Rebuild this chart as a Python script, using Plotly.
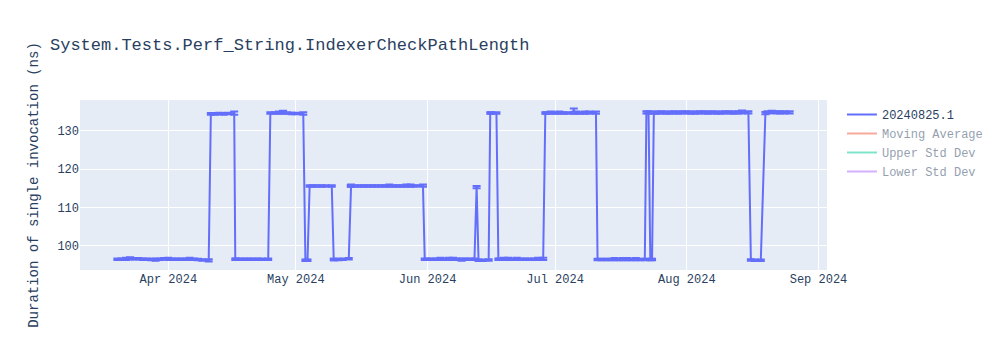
import plotly.graph_objects as go

# ---- data ----
dates = [
    # low
    "2024-03-20", "2024-03-21", "2024-03-22", "2024-03-23", "2024-03-24", "2024-03-25",
    "2024-03-26", "2024-03-27", "2024-03-28", "2024-03-29", "2024-03-30", "2024-03-31",
    "2024-04-01", "2024-04-02", "2024-04-03", "2024-04-04", "2024-04-05", "2024-04-06",
    "2024-04-07", "2024-04-08", "2024-04-09", "2024-04-10 12:00",
    # high
    "2024-04-11", "2024-04-12", "2024-04-13", "2024-04-14", "2024-04-15", "2024-04-16 12:00",
    # low
    "2024-04-16 18:00", "2024-04-17", "2024-04-18", "2024-04-19", "2024-04-20", "2024-04-21",
    "2024-04-22", "2024-04-23", "2024-04-24 12:00",
    # high
    "2024-04-25", "2024-04-26", "2024-04-27", "2024-04-28", "2024-04-29", "2024-04-30",
    "2024-05-01", "2024-05-02 18:00",
    # low
    "2024-05-03 06:00", "2024-05-03 18:00",
    # mid
    "2024-05-04 06:00", "2024-05-05", "2024-05-06", "2024-05-07", "2024-05-08", "2024-05-09 11:00",
    # low
    "2024-05-09 22:00", "2024-05-10", "2024-05-11", "2024-05-12", "2024-05-13 11:00",
    # mid
    "2024-05-13 22:00", "2024-05-14", "2024-05-15", "2024-05-16", "2024-05-17", "2024-05-18",
    "2024-05-19", "2024-05-20", "2024-05-21", "2024-05-22", "2024-05-23", "2024-05-24",
    "2024-05-25", "2024-05-26", "2024-05-27", "2024-05-28", "2024-05-29", "2024-05-30 22:00",
    # low
    "2024-05-31 08:00", "2024-06-01", "2024-06-02", "2024-06-03", "2024-06-04", "2024-06-05",
    "2024-06-06", "2024-06-07", "2024-06-08", "2024-06-09", "2024-06-10", "2024-06-11",
    "2024-06-12 01:00",
    # spike
    "2024-06-12 13:00",
    # low
    "2024-06-13", "2024-06-14", "2024-06-15 09:00",
    # high
    "2024-06-15 18:00", "2024-06-16", "2024-06-17 05:00",
    # low
    "2024-06-17 16:00", "2024-06-18", "2024-06-19", "2024-06-20", "2024-06-21", "2024-06-22",
    "2024-06-23", "2024-06-24", "2024-06-25", "2024-06-26", "2024-06-27", "2024-06-28 05:00",
    # high
    "2024-06-28 17:00", "2024-06-29", "2024-06-30", "2024-07-01", "2024-07-02", "2024-07-03",
    "2024-07-04", "2024-07-05 10:00", "2024-07-06", "2024-07-07", "2024-07-08", "2024-07-09",
    "2024-07-10 15:00",
    # low
    "2024-07-11", "2024-07-12", "2024-07-13", "2024-07-14", "2024-07-15", "2024-07-16",
    "2024-07-17", "2024-07-18", "2024-07-19", "2024-07-20", "2024-07-21", "2024-07-22 03:00",
    # high
    "2024-07-22 12:00", "2024-07-23 00:00",
    # low
    "2024-07-23 10:00", "2024-07-23 20:00",
    # high
    "2024-07-24 06:00", "2024-07-25", "2024-07-26", "2024-07-27", "2024-07-28", "2024-07-29",
    "2024-07-30", "2024-07-31", "2024-08-01", "2024-08-02", "2024-08-03", "2024-08-04",
    "2024-08-05", "2024-08-06", "2024-08-07", "2024-08-08", "2024-08-09", "2024-08-10",
    "2024-08-11", "2024-08-12", "2024-08-13", "2024-08-14", "2024-08-15 12:00",
    # low
    "2024-08-16 02:00", "2024-08-17", "2024-08-18 10:00",
    # high
    "2024-08-19 12:00", "2024-08-20", "2024-08-21", "2024-08-22", "2024-08-23", "2024-08-24",
    "2024-08-25 05:00",
]

durations = [
    96.5, 96.5, 96.6, 96.7, 96.6, 96.6, 96.5, 96.5, 96.4, 96.4, 96.5, 96.6,
    96.6, 96.5, 96.5, 96.5, 96.5, 96.6, 96.5, 96.4, 96.3, 96.2,
    134.4, 134.4, 134.5, 134.4, 134.5, 134.6,
    96.5, 96.5, 96.5, 96.5, 96.5, 96.5, 96.5, 96.5, 96.5,
    134.6, 134.6, 134.7, 134.8, 134.6, 134.5, 134.5, 134.5,
    96.2, 96.2,
    115.6, 115.6, 115.6, 115.6, 115.6, 115.6,
    96.4, 96.4, 96.4, 96.5, 96.6,
    115.6, 115.7, 115.6, 115.6, 115.6, 115.6, 115.6, 115.6, 115.6, 115.6, 115.7, 115.6,
    115.6, 115.6, 115.7, 115.7, 115.6, 115.7,
    96.5, 96.5, 96.5, 96.5, 96.6, 96.5, 96.6, 96.6, 96.5, 96.4, 96.5, 96.5, 96.5,
    115.3,
    96.2, 96.2, 96.3,
    134.6, 134.6, 134.6,
    96.5, 96.5, 96.6, 96.6, 96.5, 96.6, 96.5, 96.5, 96.5, 96.5, 96.6, 96.6,
    134.6, 134.6, 134.7, 134.6, 134.7, 134.6, 134.6, 135.1, 134.7, 134.6, 134.7, 134.7,
    134.7,
    96.4, 96.4, 96.4, 96.4, 96.5, 96.4, 96.5, 96.5, 96.4, 96.5, 96.4, 96.4,
    134.8, 134.8,
    96.4, 96.4,
    134.7, 134.7, 134.8, 134.7, 134.7, 134.8, 134.7, 134.8, 134.8, 134.7, 134.7, 134.8,
    134.8, 134.7, 134.8, 134.7, 134.7, 134.8, 134.8, 134.7, 134.8, 134.9, 134.8,
    96.3, 96.2, 96.2,
    134.6, 134.8, 134.9, 134.8, 134.8, 134.8, 134.8,
]

errors = [
    0.2, 0.2, 0.3, 0.3, 0.2, 0.2, 0.2, 0.2, 0.2, 0.3, 0.2, 0.2,
    0.3, 0.2, 0.2, 0.2, 0.2, 0.3, 0.2, 0.2, 0.2, 0.3,
    0.2, 0.2, 0.2, 0.2, 0.2, 0.4,
    0.2, 0.2, 0.2, 0.2, 0.2, 0.2, 0.2, 0.2, 0.2,
    0.2, 0.2, 0.3, 0.4, 0.2, 0.2, 0.2, 0.3,
    0.2, 0.2,
    0.2, 0.2, 0.2, 0.2, 0.2, 0.2,
    0.2, 0.2, 0.2, 0.2, 0.2,
    0.2, 0.3, 0.2, 0.2, 0.2, 0.2, 0.2, 0.2, 0.2, 0.2, 0.3, 0.2,
    0.2, 0.2, 0.3, 0.3, 0.2, 0.3,
    0.2, 0.2, 0.2, 0.2, 0.3, 0.2, 0.3, 0.3, 0.2, 0.3, 0.2, 0.2, 0.2,
    0.3,
    0.2, 0.2, 0.2,
    0.2, 0.2, 0.2,
    0.2, 0.2, 0.3, 0.3, 0.2, 0.3, 0.2, 0.2, 0.2, 0.2, 0.3, 0.3,
    0.2, 0.2, 0.3, 0.2, 0.3, 0.2, 0.2, 0.7, 0.3, 0.2, 0.3, 0.3,
    0.3,
    0.2, 0.2, 0.2, 0.2, 0.3, 0.2, 0.3, 0.3, 0.2, 0.3, 0.2, 0.2,
    0.3, 0.3,
    0.2, 0.2,
    0.3, 0.3, 0.3, 0.3, 0.3, 0.3, 0.3, 0.3, 0.3, 0.3, 0.3, 0.3,
    0.3, 0.3, 0.3, 0.3, 0.3, 0.3, 0.3, 0.3, 0.3, 0.4, 0.3,
    0.2, 0.2, 0.2,
    0.3, 0.3, 0.3, 0.3, 0.3, 0.3, 0.3,
]

build_name = "20240825.1"
hidden_series = ["Moving Average", "Upper Std Dev", "Lower Std Dev"]
title_text = "System.Tests.Perf_String.IndexerCheckPathLength"
y_title = "Duration of single invocation (ns)"

fig = go.Figure()
fig.add_trace(go.Scatter(
    x=dates, y=durations, mode="lines", name=build_name,
    error_y=dict(type="data", array=errors, visible=True),
))
for name in hidden_series:
    fig.add_trace(go.Scatter(x=dates, y=durations, mode="lines", name=name,
                             visible="legendonly"))

fig.update_layout(
    width=1000, height=350,
    title=dict(text=title_text),
    font=dict(family="Courier New, Liberation Mono, monospace"),
    yaxis=dict(title=dict(text=y_title)),
    template="plotly",
)
fig.write_html("out.html")
